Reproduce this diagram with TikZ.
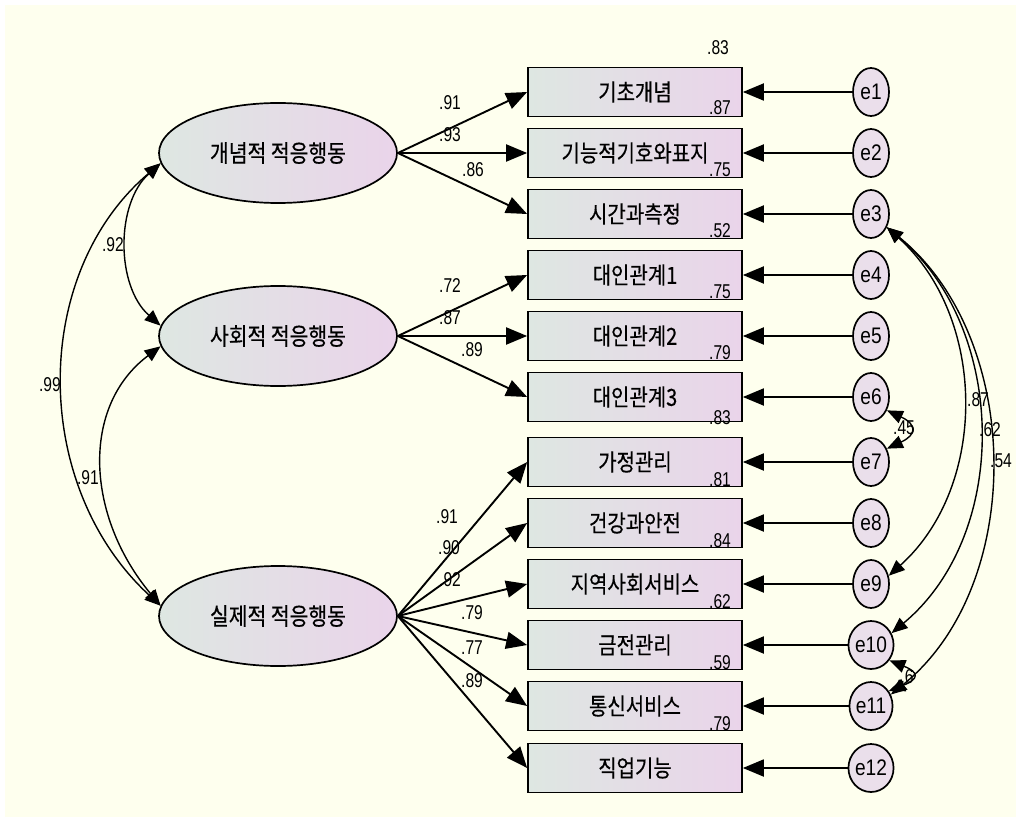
\documentclass[tikz,border=0pt]{standalone}
\usepackage{fontspec}
\setmainfont{Liberation Sans}
\newfontfamily\krf[FakeStretch=0.85,FakeBold=0.4]{Noto Sans CJK KR}
\newfontfamily\numf[FakeStretch=0.78]{Liberation Sans}
\newfontfamily\errf[FakeStretch=0.85]{Liberation Sans}
\usetikzlibrary{arrows.meta,shapes.geometric}
\definecolor{ivory}{RGB}{254,255,238}
\definecolor{gleft}{RGB}{222,231,226}
\definecolor{gright}{RGB}{234,212,234}
\definecolor{errfill}{RGB}{236,222,236}
\tikzset{
  obsbox/.style={draw, line width=1.7pt, minimum width=214pt, minimum height=49pt, inner sep=0pt,
     left color=gleft, right color=gright, font=\krf\fontsize{23.5}{23.5}\selectfont},
  latent/.style={ellipse, draw, line width=1.7pt, minimum width=238pt, minimum height=100pt, inner sep=0pt,
     left color=gleft, right color=gright, font=\krf\fontsize{24}{24}\selectfont},
  errnode/.style={ellipse, draw, line width=1.7pt, minimum width=36pt, minimum height=48pt, inner sep=0pt,
     left color=errfill!80!gleft, right color=errfill, font=\errf\fontsize{22.5}{22.5}\selectfont},
  numlab/.style={inner sep=0pt, font=\numf\fontsize{20}{20}\selectfont},
  pathar/.style={line width=1.9pt, -{Triangle[length=21pt,width=17pt]}},
  covar/.style={line width=1.4pt, {Triangle[length=16pt,width=13pt]}-{Triangle[length=16pt,width=13pt]}},
}
\begin{document}
\begin{tikzpicture}[x=1pt,y=-1pt]
\useasboundingbox (0,0) rectangle (1016,818);
\fill[white] (0,0) rectangle (1016,818);
\fill[ivory] (5,5) rectangle (1016,817);

% latent variables
\node[latent] (L1) at (278,153) {개념적 적응행동};
\node[latent] (L2) at (278,336) {사회적 적응행동};
\node[latent] (L3) at (278,616) {실제적 적응행동};

% observed boxes
\node[obsbox] (B1) at (635,92) {기초개념};
\node[obsbox] (B2) at (635,153) {기능적기호와표지};
\node[obsbox] (B3) at (635,214) {시간과측정};
\node[obsbox] (B4) at (635,275) {대인관계1};
\node[obsbox] (B5) at (635,336) {대인관계2};
\node[obsbox] (B6) at (635,397) {대인관계3};
\node[obsbox] (B7) at (635,462) {가정관리};
\node[obsbox] (B8) at (635,523) {건강과안전};
\node[obsbox] (B9) at (635,584) {지역사회서비스};
\node[obsbox] (B10) at (635,645) {금전관리};
\node[obsbox] (B11) at (635,706) {통신서비스};
\node[obsbox] (B12) at (635,768) {직업기능};

% error terms
\node[errnode] (E1) at (871,92) {e1};
\node[errnode] (E2) at (871,153) {e2};
\node[errnode] (E3) at (871,214) {e3};
\node[errnode] (E4) at (871,275) {e4};
\node[errnode] (E5) at (871,336) {e5};
\node[errnode] (E6) at (871,397) {e6};
\node[errnode] (E7) at (871,462) {e7};
\node[errnode] (E8) at (871,523) {e8};
\node[errnode] (E9) at (871,584) {e9};
\node[errnode] (E10) at (871,645) {e10};
\node[errnode] (E11) at (871,706) {e11};
\node[errnode] (E12) at (871,768) {e12};

% loadings
\foreach \b in {1,2,3} \draw[pathar] (L1.east) -- (B\b.west);
\foreach \b in {4,5,6} \draw[pathar] (L2.east) -- (B\b.west);
\foreach \b in {7,8,9,10,11,12} \draw[pathar] (L3.east) -- (B\b.west);

% error paths
\foreach \b in {1,...,12} \draw[pathar] (E\b.west) -- (B\b.east);

% latent covariances
\draw[covar] (L1.185) .. controls +(-45,40) and +(-45,-40) .. (L2.175);
\draw[covar] (L1.185) .. controls +(-130,110) and +(-130,-120) .. (L3.175);
\draw[covar] (L2.185) .. controls +(-80,60) and +(-75,-90) .. (L3.175);

% loading labels
\node[numlab] (p1) at (450,103) {.91};
\node[numlab] (p2) at (450,135) {.93};
\node[numlab] (p3) at (473,170) {.86};
\node[numlab] (p4) at (450,286) {.72};
\node[numlab] (p5) at (450,318) {.87};
\node[numlab] (p6) at (472,350) {.89};
\node[numlab] (p7) at (447,517) {.91};
\node[numlab] (p8) at (449,548) {.90};
\node[numlab] (p9) at (450,580) {.92};
\node[numlab] (p10) at (472,613) {.79};
\node[numlab] (p11) at (472,648) {.77};
\node[numlab] (p12) at (472,681) {.89};

% R-squared labels
\node[numlab] (r1) at (718,48) {.83};
\node[numlab] (r2) at (720,108) {.87};
\node[numlab] (r3) at (720,170) {.75};
\node[numlab] (r4) at (720,231) {.52};
\node[numlab] (r5) at (720,292) {.75};
\node[numlab] (r6) at (720,353) {.79};
\node[numlab] (r7) at (720,418) {.83};
\node[numlab] (r8) at (720,480) {.81};
\node[numlab] (r9) at (720,541) {.84};
\node[numlab] (r10) at (720,602) {.62};
\node[numlab] (r11) at (720,663) {.59};
\node[numlab] (r12) at (720,724) {.79};

% covariance labels
\node[numlab] (c1) at (113,245) {.92};
\node[numlab] (c2) at (50,385) {.99};
\node[numlab] (c3) at (88,478) {.91};
\node[numlab] (c4) at (978,400) {.87};
\node[numlab] (c5) at (990,430) {.62};
\node[numlab] (c6) at (1001,461) {.54};
\node[numlab] (c7) at (904,428) {.45};
\node[numlab] (c8) at (907,677) {.6};

% error covariances
\draw[covar] (E3.-40) .. controls +(100,90) and +(100,-90) .. (E9.25);
\draw[covar] (E3.-40) .. controls +(120,100) and +(120,-100) .. (E10.30);
\draw[covar] (E3.-40) .. controls +(136,110) and +(136,-110) .. (E11.30);
\draw[covar] (E6.-40) .. controls +(30,14) and +(30,-14) .. (E7.40);
\draw[covar] (E10.-40) .. controls +(30,12) and +(30,-12) .. (E11.40);
\end{tikzpicture}
\end{document}
